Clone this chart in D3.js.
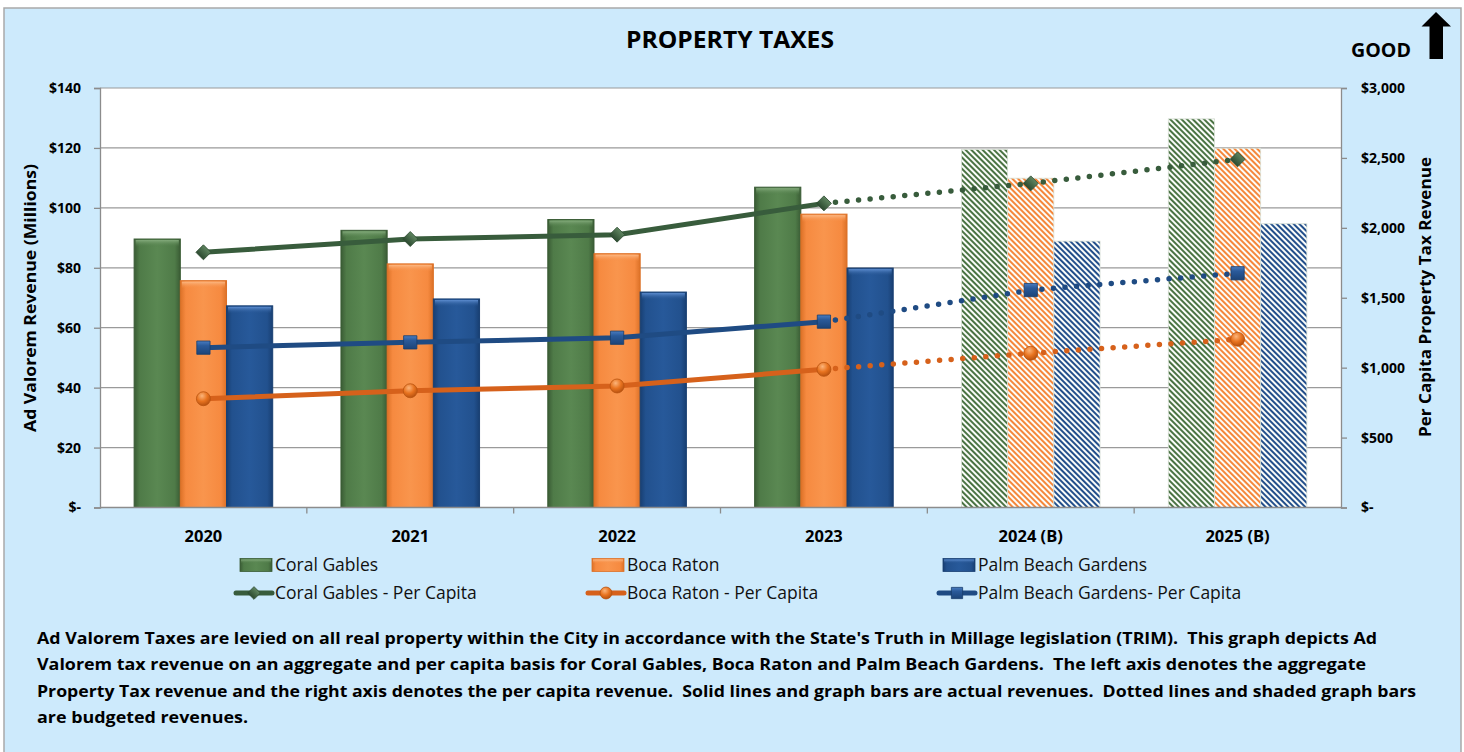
<!DOCTYPE html>
<html>
<head>
<meta charset="utf-8">
<script src="https://cdn.jsdelivr.net/npm/d3@7"></script>
<style>
  html, body { margin: 0; padding: 0; background: #fff; }
  svg { display: block; font-family: 'Open Sans', 'Liberation Sans', sans-serif; }
</style>
</head>
<body>
<div id="chart"></div>
<script>
(function() {
  'use strict';

  // data
  var years = ['2020', '2021', '2022', '2023', '2024 (B)', '2025 (B)'];
  var budgeted = [false, false, false, false, true, true];
  var cities = ['Coral Gables', 'Boca Raton', 'Palm Beach Gardens'];

  // ad valorem revenue, millions
  var coralGablesRevenue = [89.6, 92.5, 96.1, 106.9, 119.5, 129.7];
  var bocaRatonRevenue = [75.7, 81.3, 84.7, 97.9, 109.9, 119.9];
  var palmBeachGardensRevenue = [67.3, 69.6, 71.9, 79.9, 88.9, 94.7];

  // per capita revenue, dollars
  var coralGablesPerCapita = [1825, 1920, 1951, 2175, 2318, 2490];
  var bocaRatonPerCapita = [778, 835, 869, 988, 1103, 1203];
  var palmBeachGardensPerCapita = [1143, 1181, 1214, 1329, 1555, 1675];

  var leftTicks = [0, 20, 40, 60, 80, 100, 120, 140];
  var rightTicks = [0, 500, 1000, 1500, 2000, 2500, 3000];

  var barLegend = ['Coral Gables', 'Boca Raton', 'Palm Beach Gardens'];
  var lineLegend = ['Coral Gables - Per Capita', 'Boca Raton - Per Capita', 'Palm Beach Gardens- Per Capita'];

  var description = [
    'Ad Valorem Taxes are levied on all real property within the City in accordance with the State\'s Truth in Millage legislation (TRIM).  This graph depicts Ad',
    'Valorem tax revenue on an aggregate and per capita basis for Coral Gables, Boca Raton and Palm Beach Gardens.  The left axis denotes the aggregate',
    'Property Tax revenue and the right axis denotes the per capita revenue.  Solid lines and graph bars are actual revenues.  Dotted lines and shaded graph bars',
    'are budgeted revenues.'
  ];
  var descriptionWidths = [1340, 1329, 1379, 211];

  var revenue = [coralGablesRevenue, bocaRatonRevenue, palmBeachGardensRevenue];
  var perCapita = [coralGablesPerCapita, bocaRatonPerCapita, palmBeachGardensPerCapita];

  // styling
  var barColors = [
    {base: '#4f7b48', edge: '#3a5c35', light: '#5a8852', top: '#86ad7e', hatch: '#4a7343'},
    {base: '#f68a40', edge: '#dc7127', light: '#f9954d', top: '#fcba86', hatch: '#f5873b'},
    {base: '#22518e', edge: '#183f72', light: '#27599a', top: '#5f8fd2', hatch: '#234f8b'}
  ];
  var lineColors = ['#385c3c', '#d6611b', '#1f4b83'];
  var markerTypes = ['diamond', 'circle', 'square'];

  var width = 1464, height = 752;
  var plot = {left: 100, right: 1341, top: 88, bottom: 507.5};

  var svg = d3.select('#chart')
    .append('svg')
      .attr('width', width)
      .attr('height', height);

  var defs = svg.append('defs');

  barColors.forEach(function(c, i) {
    var g = defs.append('linearGradient')
      .attr('id', 'bar' + i).attr('x1', 0).attr('x2', 1).attr('y1', 0).attr('y2', 0);
    g.append('stop').attr('offset', '0%').attr('stop-color', c.edge);
    g.append('stop').attr('offset', '12%').attr('stop-color', c.base);
    g.append('stop').attr('offset', '50%').attr('stop-color', c.light);
    g.append('stop').attr('offset', '88%').attr('stop-color', c.base);
    g.append('stop').attr('offset', '100%').attr('stop-color', c.edge);

    var t = defs.append('linearGradient')
      .attr('id', 'bartop' + i).attr('x1', 0).attr('x2', 0).attr('y1', 0).attr('y2', 1);
    t.append('stop').attr('offset', '0%').attr('stop-color', c.top).attr('stop-opacity', 0.95);
    t.append('stop').attr('offset', '100%').attr('stop-color', c.base).attr('stop-opacity', 0);

    var p = defs.append('pattern')
      .attr('id', 'hatch' + i)
      .attr('patternUnits', 'userSpaceOnUse')
      .attr('width', 4).attr('height', 4)
      .attr('patternTransform', 'rotate(-45)');
    p.append('rect').attr('width', 4).attr('height', 4).attr('fill', '#fbfdfa');
    p.append('line')
      .attr('x1', 1).attr('x2', 1).attr('y1', 0).attr('y2', 4)
      .attr('stroke', c.hatch).attr('stroke-width', 2);
  });

  // marker gradients
  var mg = defs.append('linearGradient').attr('id', 'mk0').attr('x1', 0).attr('x2', 0).attr('y1', 0).attr('y2', 1);
  mg.append('stop').attr('offset', '0%').attr('stop-color', '#5f8560');
  mg.append('stop').attr('offset', '100%').attr('stop-color', '#2c4a30');
  var mo = defs.append('radialGradient').attr('id', 'mk1').attr('cx', '40%').attr('cy', '30%').attr('r', '70%');
  mo.append('stop').attr('offset', '0%').attr('stop-color', '#fbb47a');
  mo.append('stop').attr('offset', '55%').attr('stop-color', '#e8731f');
  mo.append('stop').attr('offset', '100%').attr('stop-color', '#b85210');
  var mb = defs.append('linearGradient').attr('id', 'mk2').attr('x1', 0).attr('x2', 0).attr('y1', 0).attr('y2', 1);
  mb.append('stop').attr('offset', '0%').attr('stop-color', '#4a7cc0');
  mb.append('stop').attr('offset', '35%').attr('stop-color', '#2a5a9a');
  mb.append('stop').attr('offset', '100%').attr('stop-color', '#1c4478');

  // background panel
  svg.append('rect')
    .attr('x', 4).attr('y', 8)
    .attr('width', 1457).attr('height', 760)
    .attr('fill', '#cdeafc')
    .attr('stroke', '#a9a9a9')
    .attr('stroke-width', 1.5);

  // title
  svg.append('text')
    .attr('x', 730).attr('y', 48)
    .attr('text-anchor', 'middle')
    .style('font-size', '23px')
    .style('font-weight', 'bold')
    .attr('fill', '#000')
    .attr('textLength', 208)
    .attr('lengthAdjust', 'spacingAndGlyphs')
    .text('PROPERTY TAXES');

  // GOOD + arrow
  svg.append('text')
    .attr('x', 1351).attr('y', 57)
    .style('font-size', '19px')
    .style('font-weight', 'bold')
    .attr('textLength', 60)
    .attr('lengthAdjust', 'spacingAndGlyphs')
    .text('GOOD');
  svg.append('path')
    .attr('d', 'M1436,12 L1451,26.5 L1443,26.5 L1443,59 L1429.5,59 L1429.5,26.5 L1421.5,26.5 Z')
    .attr('fill', '#000');

  // scales
  var x0 = d3.scaleBand()
    .domain(years)
    .range([plot.left, plot.right])
    .paddingInner(0.33)
    .paddingOuter(0.165);
  var x1 = d3.scaleBand()
    .domain(cities)
    .range([0, x0.bandwidth()]);
  var yL = d3.scaleLinear().domain([0, 140]).range([plot.bottom, plot.top]);
  var yR = d3.scaleLinear().domain([0, 3000]).range([plot.bottom, plot.top]);

  // plot area
  svg.append('rect')
    .attr('x', plot.left).attr('y', plot.top)
    .attr('width', plot.right - plot.left)
    .attr('height', plot.bottom - plot.top)
    .attr('fill', '#fff');

  // gridlines
  svg.append('g')
    .selectAll('line')
    .data(leftTicks.filter(function(d) { return d > 0; }))
    .enter().append('line')
      .attr('x1', plot.left).attr('x2', plot.right)
      .attr('y1', function(d) { return yL(d); })
      .attr('y2', function(d) { return yL(d); })
      .attr('stroke', '#9a9a9a')
      .attr('stroke-width', 1.2);

  // bars
  var barData = [];
  years.forEach(function(yr, i) {
    cities.forEach(function(city, j) {
      barData.push({year: yr, city: city, ci: j, value: revenue[j][i], budget: budgeted[i]});
    });
  });

  var bars = svg.append('g').attr('class', 'bars');
  var bar = bars.selectAll('g')
    .data(barData)
    .enter().append('g')
      .attr('transform', function(d) { return 'translate(' + (x0(d.year) + x1(d.city)) + ',0)'; });

  bar.append('rect')
    .attr('x', 0)
    .attr('y', function(d) { return yL(d.value); })
    .attr('width', x1.bandwidth())
    .attr('height', function(d) { return yL(0) - yL(d.value); })
    .attr('fill', function(d) { return d.budget ? 'url(#hatch' + d.ci + ')' : 'url(#bar' + d.ci + ')'; })
    .attr('stroke', function(d) { return d.budget ? '#d9e0d6' : barColors[d.ci].edge; })
    .attr('stroke-width', function(d) { return d.budget ? 0.8 : 1; });

  bar.filter(function(d) { return !d.budget; })
    .append('rect')
      .attr('x', 1.5)
      .attr('y', function(d) { return yL(d.value) + 1; })
      .attr('width', x1.bandwidth() - 3)
      .attr('height', 7)
      .attr('fill', function(d) { return 'url(#bartop' + d.ci + ')'; });

  // axes
  var leftAxis = svg.append('g')
    .attr('transform', 'translate(' + plot.left + ',0)')
    .call(d3.axisLeft(yL)
      .tickValues(leftTicks)
      .tickSize(6)
      .tickPadding(13)
      .tickFormat(function(d) { return d === 0 ? '$-' : '$' + d; }));

  var rightAxis = svg.append('g')
    .attr('transform', 'translate(' + plot.right + ',0)')
    .call(d3.axisRight(yR)
      .tickValues(rightTicks)
      .tickSize(6)
      .tickPadding(13)
      .tickFormat(function(d) { return d === 0 ? '$-' : '$' + d3.format(',')(d); }));

  [leftAxis, rightAxis].forEach(function(ax) {
    ax.select('.domain').attr('stroke', '#8c8c8c').attr('stroke-width', 1.3);
    ax.selectAll('.tick line').attr('stroke', '#8c8c8c').attr('stroke-width', 1.3);
    ax.selectAll('.tick text')
      .attr('fill', '#000')
      .style('font-size', '14px')
      .style('font-weight', 'bold')
      .style('font-family', "'Open Sans', sans-serif");
  });
  rightAxis.selectAll('.tick text').attr('x', 20);

  // category axis
  var bottom = svg.append('g').attr('transform', 'translate(0,' + plot.bottom + ')');
  bottom.append('line')
    .attr('x1', plot.left).attr('x2', plot.right)
    .attr('stroke', '#8c8c8c').attr('stroke-width', 1.3);
  var half = x0.step() * x0.paddingInner() / 2;
  bottom.selectAll('line.sep')
    .data(years.slice(1))
    .enter().append('line')
      .attr('class', 'sep')
      .attr('x1', function(d) { return x0(d) - half; })
      .attr('x2', function(d) { return x0(d) - half; })
      .attr('y1', 0).attr('y2', 6)
      .attr('stroke', '#8c8c8c').attr('stroke-width', 1.3);
  bottom.selectAll('text')
    .data(years)
    .enter().append('text')
      .attr('x', function(d) { return x0(d) + x0.bandwidth() / 2; })
      .attr('y', 34)
      .attr('text-anchor', 'middle')
      .style('font-size', '16.5px')
      .style('font-weight', 'bold')
      .text(function(d) { return d; });

  // axis titles
  svg.append('text')
    .attr('transform', 'translate(36,298) rotate(-90)')
    .attr('text-anchor', 'middle')
    .style('font-size', '16px')
    .style('font-weight', 'bold')
    .attr('textLength', 268)
    .attr('lengthAdjust', 'spacingAndGlyphs')
    .text('Ad Valorem Revenue (Millions)');
  svg.append('text')
    .attr('transform', 'translate(1431,297) rotate(-90)')
    .attr('text-anchor', 'middle')
    .style('font-size', '16px')
    .style('font-weight', 'bold')
    .attr('textLength', 280)
    .attr('lengthAdjust', 'spacingAndGlyphs')
    .text('Per Capita Property Tax Revenue');

  // per capita lines
  var cx = function(i) { return x0(years[i]) + x0.bandwidth() / 2; };
  var lineGen = d3.line()
    .x(function(d) { return cx(d.i); })
    .y(function(d) { return yR(d.v); });

  function drawMarker(sel, type, x, y, scale) {
    var s = scale || 1;
    if (type === 'diamond') {
      sel.append('path')
        .attr('d', d3.symbol().type(d3.symbolSquare).size(112 * s * s)())
        .attr('transform', 'translate(' + x + ',' + y + ') rotate(45)')
        .attr('fill', 'url(#mk0)')
        .attr('stroke', '#2e4c31').attr('stroke-width', 0.8);
    } else if (type === 'circle') {
      sel.append('circle')
        .attr('cx', x).attr('cy', y).attr('r', 7 * s)
        .attr('fill', 'url(#mk1)')
        .attr('stroke', '#b9530f').attr('stroke-width', 0.8);
    } else {
      sel.append('path')
        .attr('d', d3.symbol().type(d3.symbolSquare).size(176 * s * s)())
        .attr('transform', 'translate(' + x + ',' + y + ')')
        .attr('fill', 'url(#mk2)')
        .attr('stroke', '#183d6c').attr('stroke-width', 0.8);
    }
  }

  var lines = svg.append('g').attr('class', 'lines');
  perCapita.forEach(function(series, j) {
    var pts = series.map(function(v, i) { return {i: i, v: v}; });
    var actual = pts.filter(function(d) { return !budgeted[d.i]; });
    var lastActual = actual[actual.length - 1];
    var projected = [lastActual].concat(pts.filter(function(d) { return budgeted[d.i]; }));

    lines.append('path')
      .attr('d', lineGen(projected))
      .attr('fill', 'none')
      .attr('stroke', lineColors[j])
      .attr('stroke-width', 5.5)
      .attr('stroke-linecap', 'round')
      .attr('stroke-dasharray', '0 11.6');
    lines.append('path')
      .attr('d', lineGen(actual))
      .attr('fill', 'none')
      .attr('stroke', lineColors[j])
      .attr('stroke-width', 5);

    var mk = lines.append('g');
    pts.forEach(function(d) {
      drawMarker(mk, markerTypes[j], cx(d.i), yR(d.v));
    });
  });

  // legend
  var legendCols = [240, 592, 943];
  var legend = svg.append('g').attr('class', 'legend');
  barLegend.forEach(function(name, j) {
    var g = legend.append('g').attr('transform', 'translate(' + legendCols[j] + ',565)');
    g.append('rect')
      .attr('x', 0).attr('y', -6.5).attr('width', 32).attr('height', 13)
      .attr('fill', 'url(#bar' + j + ')')
      .attr('stroke', barColors[j].edge).attr('stroke-width', 0.8);
    g.append('rect')
      .attr('x', 1).attr('y', -5.5).attr('width', 30).attr('height', 4)
      .attr('fill', 'url(#bartop' + j + ')');
    g.append('text')
      .attr('x', 35).attr('y', 6)
      .style('font-size', '17.5px')
      .attr('fill', '#111')
      .text(name);
  });
  lineLegend.forEach(function(name, j) {
    var g = legend.append('g').attr('transform', 'translate(' + legendCols[j] + ',593)');
    g.append('line')
      .attr('x1', -4).attr('x2', 32)
      .attr('stroke', lineColors[j]).attr('stroke-width', 5)
      .attr('stroke-linecap', 'round');
    drawMarker(g, markerTypes[j], 14, 0, 0.85);
    g.append('text')
      .attr('x', 35).attr('y', 6)
      .style('font-size', '17.5px')
      .attr('fill', '#111')
      .text(name);
  });

  // description
  svg.append('g').selectAll('text')
    .data(description)
    .enter().append('text')
      .attr('x', 37)
      .attr('y', function(d, i) { return 644 + i * 26.3; })
      .attr('textLength', function(d, i) { return descriptionWidths[i]; })
      .attr('lengthAdjust', 'spacingAndGlyphs')
      .style('white-space', 'pre')
      .style('font-size', '15.5px')
      .style('font-weight', 'bold')
      .attr('fill', '#000')
      .text(function(d) { return d; });
})();
</script>
</body>
</html>
